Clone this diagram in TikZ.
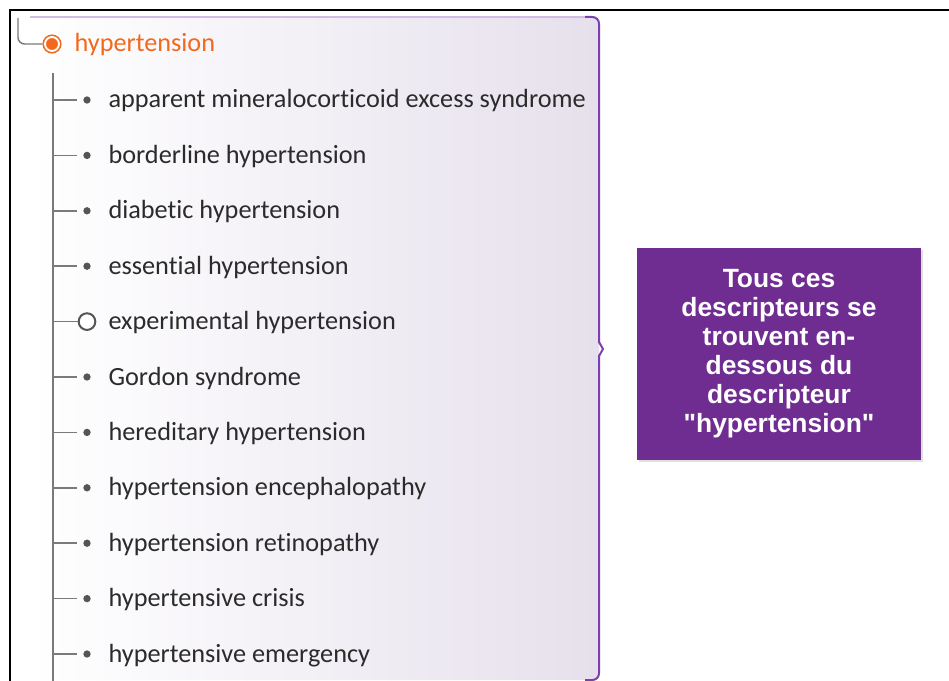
\documentclass[tikz,border=0pt]{standalone}
\usepackage{fontspec}
\newfontfamily\listfont[Ligatures=NoCommon]{Carlito}
\newfontfamily\boxfont{Liberation Sans}
\usetikzlibrary{positioning,shadows}
\definecolor{orangeterm}{HTML}{F2691E}
\definecolor{textgris}{HTML}{2B2B2B}
\definecolor{brancheg}{HTML}{7A7A7A}
\definecolor{pucegris}{HTML}{555555}
\definecolor{panneau}{HTML}{E6E0EC}
\definecolor{bordviolet}{HTML}{7B3FB0}
\definecolor{boiteviolet}{HTML}{6F2D91}

\begin{document}
\begin{tikzpicture}[x=0.75pt, y=-0.75pt, node distance=15.75pt, thick]
	\tikzset{branch/.style={draw=brancheg, line width=1.1pt}}
	\tikzset{item/.style={text=textgris, font=\listfont\fontsize{19.7}{23}\selectfont, inner sep=0pt, anchor=base west, yshift=-6pt}}
	\tikzset{puce/.style={circle, inner sep=0pt, minimum size=5.5pt, fill=pucegris}}
	\tikzset{ouvert/.style={circle, inner sep=0pt, minimum size=12.5pt, draw=pucegris, line width=1.5pt, fill=white}}
	\tikzset{cible/.style={circle, inner sep=0pt, minimum size=10.5pt, draw=orangeterm, fill=orangeterm, line width=1.2pt, double=white, double distance=1.4pt, outer sep=1.9pt}}
	\tikzset{note/.style={fill=boiteviolet, text=white, align=center, minimum width=213pt, minimum height=159pt, font=\boxfont\bfseries\fontsize{19.8}{21.75}\selectfont, drop shadow={opacity=0.25, shadow xshift=1.5pt, shadow yshift=-1.5pt}}}

	\useasboundingbox (0,0) rectangle (949,681);

	%CADRE
	\draw[black, line width=1.8pt] (949,10) -- (10,10) -- (10,681);

	%PANNEAU
	\shade[left color=white, right color=panneau, rounded corners=6pt] (30,17) rectangle (599,680);
	\draw[bordviolet!35, line width=1.2pt] (30,17) -- (590,17);
	\draw[bordviolet, line width=1.5pt, rounded corners=5pt] (585,17) -- (599,17) -- (599,343);
	\draw[bordviolet, line width=1.5pt] (599,342) -- (603,349) -- (599,356);
	\draw[bordviolet, line width=1.5pt, rounded corners=5pt] (599,355) -- (599,680) -- (585,680);

	%RACINE
	\coordinate (depart) at (18,18);
	\node[cible] (racine) at (52,44) {};
	\node[item, text=orangeterm, right=16.5pt of racine.center, anchor=base west] (tracine) {hypertension};
	\draw[branch, rounded corners=5pt] (depart) |- (racine);

	%DESCRIPTEURS
	\coordinate (tronc haut) at (53,73);
	\coordinate (tronc bas) at (53,681);
	\draw[branch] (tronc haut) -- (tronc bas);

	\foreach \nom [count=\i] in {apparent mineralocorticoid excess syndrome, borderline hypertension, diabetic hypertension, essential hypertension, experimental hypertension, Gordon syndrome, hereditary hypertension, hypertension encephalopathy, hypertension retinopathy, hypertensive crisis, hypertensive emergency}{
		\pgfmathsetmacro{\yy}{100+55.4*(\i-1)}
		\ifnum\i=5
			\node[ouvert] (b\i) at (87,\yy) {};
			\draw[branch] (tronc haut |- b\i) -- (b\i);
		\else
			\node[puce] (b\i) at (87,\yy) {};
			\draw[branch, shorten >=4pt] (tronc haut |- b\i) -- (b\i);
		\fi
		\node[item, right=of b\i.center, anchor=base west] (t\i) {\nom};
	}

	%NOTE
	\node[note] (remarque) at (779,354) {Tous ces\\descripteurs se\\trouvent en-\\dessous du\\descripteur\\"hypertension"};
\end{tikzpicture}
\end{document}
